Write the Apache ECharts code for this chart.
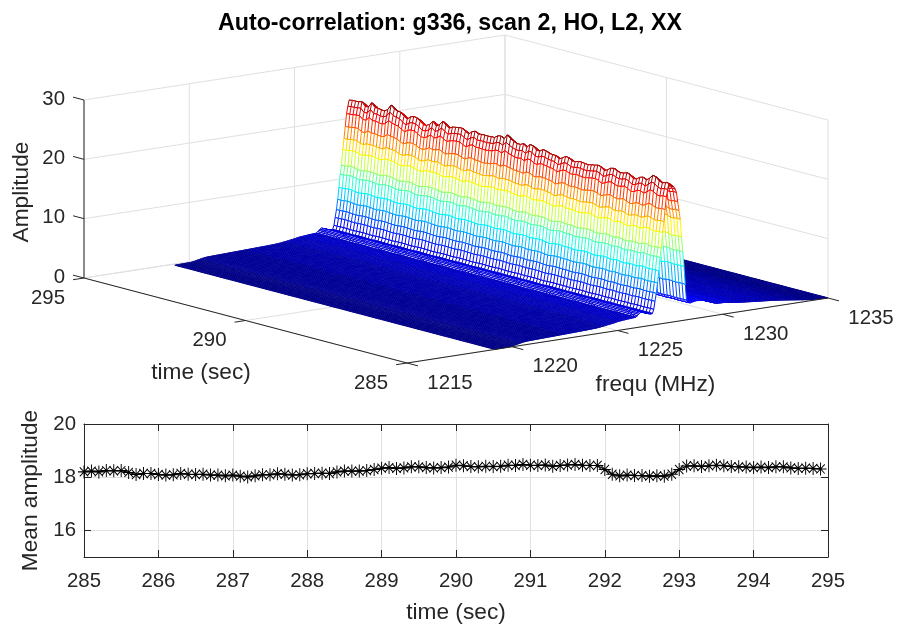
<!DOCTYPE html>
<html><head><meta charset="utf-8">
<style>html,body{margin:0;padding:0;background:#fff}#c{width:897px;height:628px}</style>
<script src="https://cdn.jsdelivr.net/npm/echarts@6/dist/echarts.min.js"></script>
</head><body><div id="c"></div>
<script>
// ---------- data ----------
const titleText = 'Auto-correlation: g336, scan 2, HO, L2, XX';
const freqTicks = [1215,1220,1225,1230,1235];
const timeTicks3d = [285,290,295];
const ampTicks = [0,10,20,30];
const meanAmpTicks = [16,18,20];
const firstChannelMHz = 1219.16, channelStepMHz = 0.06;
// spectrum across frequency channels (amplitude)
const spectrum = [
0.02,0.03,0.03,0.04,0.04,0.05,0.05,0.05,0.06,0.06,0.07,0.07,0.08,0.09,
0.12,0.16,0.2,0.25,0.3,0.34,0.38,0.42,0.46,0.5,0.52,0.55,
.56,.57,.58,.58,.59,.60,.60,.61,.62,.62,
.63,.64,.64,.65,.66,.66,.67,.68,.68,.69,
.70,.70,.71,.72,.72,.73,.74,.74,.75,.76,
.76,.77,.78,.78,.79,.80,.80,.81,.82,.82,
.83,.84,.84,.85,.86,.86,.87,.88,.89,.90,
.91,.92,.93,.94,.95,.96,.98,1.0,
1.03,1.06,1.09,1.12,1.15,1.18,1.21,1.24,1.27,1.3,1.34,1.38,1.42,1.46,1.5,
1.52,1.54,1.56,1.58,1.6,1.62,1.64,1.66,1.67,1.69,1.7,1.72,1.73,1.75,
1.95,2.15,2.3,2.46,
2.4,2.32,2.24,2.16,2.08,2.0,1.95,1.9,
1.95,2.6,3.9,5.2,6.9,8.9,11.1,12.6,15.2,17.0,19.0,21.1,22.3,23.3,
23.2,23.0,22.8,22.6,22.2,21.6,20.0,18.5,17.0,14.0,11.5,9.0,6.0,3.3,
2.9,2.8,2.75,2.8,2.85,2.9,2.92,2.95,2.95,2.9,
2.95,2.9,2.85,2.8,2.7,2.6,2.5,2.45,2.4,2.3,
2.2,2.1,2.05,2.0,1.97,1.95,1.95,1.94,1.94,1.93,
1.94,1.9,1.85,1.8,1.78,1.75,1.72,1.7,1.66,1.62,
1.6,1.57,1.55,1.52,1.5,1.48,1.46,1.44,1.42,1.4,
1.38,1.36,1.34,1.32,1.3,1.28,1.26,1.24,1.22,1.2,
1.18,1.16,1.14,1.12,1.1,1.08,1.07,1.05,1.03,1.0,
.97,.94,.92,.89,.86,.84,.81,.78,.75,.72,
.69,.66,.63,.6,.57,.54,.51,.48,.45,.42,
.39,.36,.33,.3,.27,.24,.22,.2,.18,.16,
.14,.13,.11,.1,.09,.08,.07,.06,.05,.04,.03,.02];
const spectrumPeak = 23.3;
// top edge of the ridge, per time sample (285.0 ... 294.9 s)
const ridgeTop = [
23.3,23.2,23.15,23.4,23.7,23.6,23.3,23.2,23.35,23.1,
23.0,23.05,23.3,23.25,23.2,23.35,23.15,23.3,23.4,23.2,
23.1,23.3,23.25,23.05,23.1,23.2,23.35,23.3,23.1,23.05,
22.9,23.1,23.3,23.2,23.15,23.3,23.05,23.0,23.3,23.5,
23.3,23.15,23.4,23.6,23.3,23.8,23.4,23.2,23.25,23.7,
24.2,23.7,23.75,23.5,23.3,23.4,23.6,23.5,23.3,23.2,
23.35,23.3,23.1,23.3,23.4,23.25,23.3,23.45,23.3,23.5,
23.75,23.0,22.6,23.3,23.0,22.9,22.75,22.9,23.1,23.3,
23.3,23.05,23.2,23.4,23.3,23.5,24.1,23.6,23.2,23.0,
23.0,23.1,23.85,23.3,23.1,23.4,23.2,23.3,23.5,23.3];
// slow wobble of the mid-height rows, per time sample
const rowWobble = [
.15,.3,.15,0,.15,.4,.15,-.15,0,.15,
-.15,-.3,-.15,.15,0,-.25,.1,.25,0,-.15,
-.3,-.1,.15,.25,.1,-.15,-.3,-.15,.1,0,
.15,.3,.1,-.15,-.4,-.15,.15,.3,.15,0,
-.15,.1,.3,.15,-.1,-.25,0,.25,.4,.15,
0,-.15,.1,.3,.15,0,-.3,-.15,.1,.15,
.3,.1,-.15,-.1,.15,.3,.15,-.15,-.3,-.15,
0,.25,.4,.15,-.1,-.3,-.15,.15,.25,.1,
-.1,-.3,-.15,.1,.3,.25,0,-.25,-.1,.15,
.3,.15,-.15,-.3,-.1,.15,.3,.1,-.15,0];
// lower panel
const meanAmp = [
18.20,18.23,18.20,18.25,18.24,18.25,18.18,18.10,18.14,18.14,
18.10,18.08,18.09,18.14,18.11,18.10,18.11,18.08,18.08,18.05,
18.08,18.04,18.01,18.05,18.09,18.09,18.13,18.11,18.08,18.09,
18.13,18.14,18.15,18.14,18.20,18.23,18.23,18.23,18.25,18.29,
18.34,18.36,18.33,18.35,18.39,18.39,18.36,18.35,18.36,18.38,
18.45,18.43,18.40,18.39,18.41,18.40,18.41,18.45,18.44,18.48,
18.45,18.44,18.46,18.41,18.44,18.46,18.48,18.45,18.44,18.44,
18.29,18.11,18.05,18.08,18.06,18.06,18.04,18.05,18.04,18.11,
18.29,18.42,18.43,18.40,18.43,18.45,18.43,18.40,18.39,18.38,
18.36,18.38,18.36,18.39,18.39,18.35,18.33,18.34,18.33,18.31];

// ---------- layout ----------
const FONT = '"Liberation Sans", Arial, Helvetica, sans-serif';
const INK = '#262626', GRID = '#e0e0e0';
const TICK_PX = 20.4, LABEL_PX = 22.7, TITLE_PX = 23.2;
const FMIN=1215,FMAX=1235,TMIN=285,TMAX=295,ZMAX=30;
// orthographic projection of the 3-D box onto the page plane
const origin={x:407,y:363}, fVec={x:421,y:-65}, tVec={x:-323,y:-85}, zVec={x:0,y:-178};
function project(f,t,z){
  const a=(f-FMIN)/(FMAX-FMIN), b=(t-TMIN)/(TMAX-TMIN), c=z/ZMAX;
  return [origin.x+a*fVec.x+b*tVec.x+c*zVec.x, origin.y+a*fVec.y+b*tVec.y+c*zVec.y];
}
const times = meanAmp.map((_,i)=>285+i*0.1);
const channels = spectrum.map((_,i)=>firstChannelMHz+i*channelStepMHz);
const surf = spectrum.map(p=>{
  const w=p/spectrumPeak;
  return ridgeTop.map((r,j)=>p+1.3*Math.pow(w,4)*(r-spectrumPeak)+w*rowWobble[j]);
});
let zHi=0; surf.forEach(r=>r.forEach(v=>{if(v>zHi)zHi=v;}));
function jetCss(idx){
  const v=(idx+.5)/64, c=x=>Math.round(255*Math.max(0,Math.min(1,x)));
  return 'rgb('+c(1.5-Math.abs(4*v-3))+','+c(1.5-Math.abs(4*v-2))+','+c(1.5-Math.abs(4*v-1))+')';
}
const jetIdx=z=>Math.max(0,Math.min(63,Math.floor(z/zHi*64)));

function line(api,a,b,color,w){
  const p=api.coord(project(a[0],a[1],a[2])), q=api.coord(project(b[0],b[1],b[2]));
  return {type:'line',silent:true,shape:{x1:p[0],y1:p[1],x2:q[0],y2:q[1]},style:{stroke:color,lineWidth:w||1}};
}
function walls(params,api){
  const ch=[];
  const G=(a,b)=>ch.push(line(api,a,b,GRID,1));
  ampTicks.forEach(z=>{G([FMIN,TMAX,z],[FMAX,TMAX,z]);G([FMAX,TMAX,z],[FMAX,TMIN,z]);});
  freqTicks.forEach(f=>{G([f,TMAX,0],[f,TMAX,ZMAX]);G([f,TMIN,0],[f,TMAX,0]);});
  timeTicks3d.forEach(t=>{G([FMAX,t,0],[FMAX,t,ZMAX]);G([FMIN,t,0],[FMAX,t,0]);});
  return {type:'group',children:ch};
}
function ribbon(params,api){
  const i=api.value(0), ch=[], pa=[], pb=[];
  times.forEach((t,j)=>{
    pa.push(api.coord(project(channels[i],t,surf[i][j])));
    pb.push(api.coord(project(channels[i+1],t,surf[i+1][j])));
  });
  const poly=pa.concat(pb.slice().reverse());
  ch.push({type:'polygon',silent:true,shape:{points:poly},style:{fill:'#fff',stroke:null}});
  const buckets={};
  const seg=(idx,p,q)=>{(buckets[idx]=buckets[idx]||[]).push('M'+p[0].toFixed(2)+' '+p[1].toFixed(2)+'L'+q[0].toFixed(2)+' '+q[1].toFixed(2));};
  times.forEach((t,j)=>{
    seg(jetIdx((surf[i][j]+surf[i+1][j])*.5),pa[j],pb[j]);
    if(j<times.length-1){
      seg(jetIdx(surf[i+1][j]),pb[j],pb[j+1]);
      seg(jetIdx(surf[i][j]),pa[j],pa[j+1]);
    }
  });
  Object.keys(buckets).forEach(k=>ch.push({type:'path',silent:true,shape:{pathData:buckets[k].join('')},style:{fill:null,stroke:jetCss(+k),lineWidth:1}}));
  return {type:'group',children:ch};
}
function frontAxes(params,api){
  const ch=[];
  const A=(a,b)=>ch.push(line(api,a,b,INK,1));
  A([FMIN,TMAX,0],[FMIN,TMIN,0]);
  A([FMIN,TMIN,0],[FMAX,TMIN,0]);
  A([FMIN,TMAX,0],[FMIN,TMAX,ZMAX]);
  const fTick=(TMAX-TMIN)*0.034, tTick=(FMAX-FMIN)*0.026;
  ampTicks.forEach(z=>{A([FMIN,TMAX,z],[FMIN,TMAX+fTick,z]);});
  timeTicks3d.forEach(t=>{A([FMIN,t,0],[FMIN-tTick,t,0]);});
  freqTicks.forEach(f=>{A([f,TMIN,0],[f,TMIN-fTick,0]);});
  const text=(s,p,dx,dy,size,align,rot)=>{
    const c=api.coord(p);
    ch.push({type:'text',silent:true,x:c[0]+dx,y:c[1]+dy,rotation:rot||0,
      style:{text:s,fill:INK,font:size+'px '+FONT,align:align||'center',verticalAlign:'middle'}});
  };
  ampTicks.forEach(z=>text(String(z),project(FMIN,TMAX,z),-19,-1,TICK_PX,'right'));
  timeTicks3d.forEach(t=>text(String(t),project(FMIN,t,0),-36,20,TICK_PX));
  freqTicks.forEach(f=>text(String(f),project(f,TMIN,0),43,20,TICK_PX));
  text('time (sec)',project(FMIN,290,0),-44.5,52.5,LABEL_PX);
  text('frequ (MHz)',project(1225,TMIN,0),38,54.5,LABEL_PX);
  text('Amplitude',project(FMIN,TMAX,15),-62,3,LABEL_PX,'center',Math.PI/2);
  return {type:'group',children:ch};
}

const ribbonIdx=[]; for(let i=spectrum.length-2;i>=0;i--) ribbonIdx.push([i]);
const star='path://M0 -10L0 10M-10 0L10 0M-7 -7L7 7M-7 7L7 -7';
const chart=echarts.init(document.getElementById('c'),null,{renderer:'canvas'});
chart.setOption({
  animation:false,
  backgroundColor:'#fff',
  textStyle:{fontFamily:FONT},
  title:{text:titleText,left:445,top:7,textAlign:'center',textStyle:{fontFamily:FONT,fontSize:TITLE_PX,fontWeight:'bold',color:'#000'}},
  grid:[
    {left:0,top:0,width:897,height:628,show:false},
    {left:84,top:424,width:744,height:133,show:false}
  ],
  xAxis:[
    {gridIndex:0,type:'value',min:0,max:897,show:false},
    {gridIndex:1,type:'value',min:285,max:295,interval:1,position:'bottom',
     name:'time (sec)',nameLocation:'middle',nameGap:44,nameTextStyle:{fontFamily:FONT,fontSize:LABEL_PX,color:INK},
     axisLine:{lineStyle:{color:INK,width:1}},axisTick:{inside:true,length:7,lineStyle:{color:INK}},
     axisLabel:{fontFamily:FONT,fontSize:TICK_PX,color:INK,margin:14,showMinLabel:true,showMaxLabel:true},
     splitLine:{show:true,lineStyle:{color:GRID,width:1}}},
    {gridIndex:1,type:'value',min:285,max:295,interval:1,position:'top',
     axisLine:{lineStyle:{color:INK,width:1}},axisTick:{inside:true,length:7,lineStyle:{color:INK}},axisLabel:{show:false},splitLine:{show:false}}
  ],
  yAxis:[
    {gridIndex:0,type:'value',min:0,max:628,inverse:true,show:false},
    {gridIndex:1,type:'value',min:15,max:20,interval:1,position:'left',
     name:'Mean amplitude',nameLocation:'middle',nameGap:41,nameTextStyle:{fontFamily:FONT,fontSize:LABEL_PX,color:INK},
     axisLine:{lineStyle:{color:INK,width:1}},
     axisTick:{inside:true,length:7,lineStyle:{color:INK},customValues:meanAmpTicks},
     axisLabel:{fontFamily:FONT,fontSize:TICK_PX,color:INK,margin:8,customValues:meanAmpTicks},
     splitLine:{show:true,lineStyle:{color:GRID,width:1}}},
    {gridIndex:1,type:'value',min:15,max:20,interval:1,position:'right',
     axisLine:{lineStyle:{color:INK,width:1}},
     axisTick:{inside:true,length:7,lineStyle:{color:INK},customValues:meanAmpTicks},
     axisLabel:{show:false},splitLine:{show:false}}
  ],
  series:[
    {type:'custom',name:'walls',xAxisIndex:0,yAxisIndex:0,clip:false,silent:true,z:1,data:[[0]],renderItem:walls},
    {type:'custom',name:'surface',xAxisIndex:0,yAxisIndex:0,clip:false,silent:true,z:2,
     encode:{x:0},data:ribbonIdx,renderItem:ribbon,progressive:0},
    {type:'custom',name:'axes3d',xAxisIndex:0,yAxisIndex:0,clip:false,silent:true,z:3,data:[[0]],renderItem:frontAxes},
    {type:'line',name:'Mean amplitude',xAxisIndex:1,yAxisIndex:1,z:4,
     data:times.map((t,i)=>[t,meanAmp[i]]),
     lineStyle:{color:'#000',width:1.2},
     symbol:star,symbolSize:[12,13],showSymbol:true,showAllSymbol:true,
     itemStyle:{color:'rgba(0,0,0,0)',borderColor:'#000',borderWidth:1},
     emphasis:{disabled:true},silent:true}
  ]
});
</script></body></html>
